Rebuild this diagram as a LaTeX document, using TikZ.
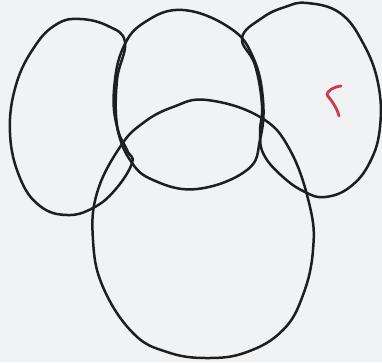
\documentclass[tikz,border=0pt]{standalone}
\usepackage{tikz}
\definecolor{Fond}{HTML}{F1F2F4}
\definecolor{Trait}{HTML}{1E1E1E}
\definecolor{Rouge}{HTML}{CF3A4E}

\tikzset{
  bulle/.style={draw=Trait, line width=2.5pt, line join=round},
  chiffre/.style={draw=Rouge, line width=2.8pt, line cap=round, line join=round}
}

\begin{document}
\begin{tikzpicture}[x=1pt,y=-1pt]
        \fill[Fond] (0,0) rectangle (382,362);
        \useasboundingbox (0,0) rectangle (382,362);
        % bulle de gauche
        \draw[bulle] plot[smooth cycle, tension=.7] coordinates {(80,19) (108,26) (125,42) (117,80) (117,125)
          (127,150) (132,163) (115,190) (93,208) (67,215) (40,206) (20,178) (10,133) (16,85) (35,46) (57,24)};
        % bulle du milieu
        \draw[bulle] plot[smooth cycle, tension=.7] coordinates {(183,10) (230,28) (253,57) (263,100) (260,140)
          (247,170) (197,189) (153,180) (130,160) (117,127) (114,90) (123,48) (145,22)};
        % bulle de droite
        \draw[bulle] plot[smooth cycle, tension=.7] coordinates {(307,3) (340,13) (363,43) (378,83) (380,127)
          (370,162) (350,187) (325,197) (305,192) (283,177) (264,155) (260,133) (262,105) (255,65)
          (242,38) (262,18) (285,7)};
        % grande bulle du bas
        \draw[bulle] plot[smooth cycle, tension=.7] coordinates {(207,100) (260,117) (290,150) (310,207) (313,250)
          (303,295) (283,330) (247,352) (207,358) (167,352) (133,333) (103,287) (93,240) (97,193)
          (120,147) (143,123) (173,107)};
        % le trait rouge
        \draw[chiffre] (341,86) .. controls (333,87) and (327,91) .. (327,95)
          .. controls (332,101) and (337,108) .. (339,116);
      \end{tikzpicture}
\end{document}
